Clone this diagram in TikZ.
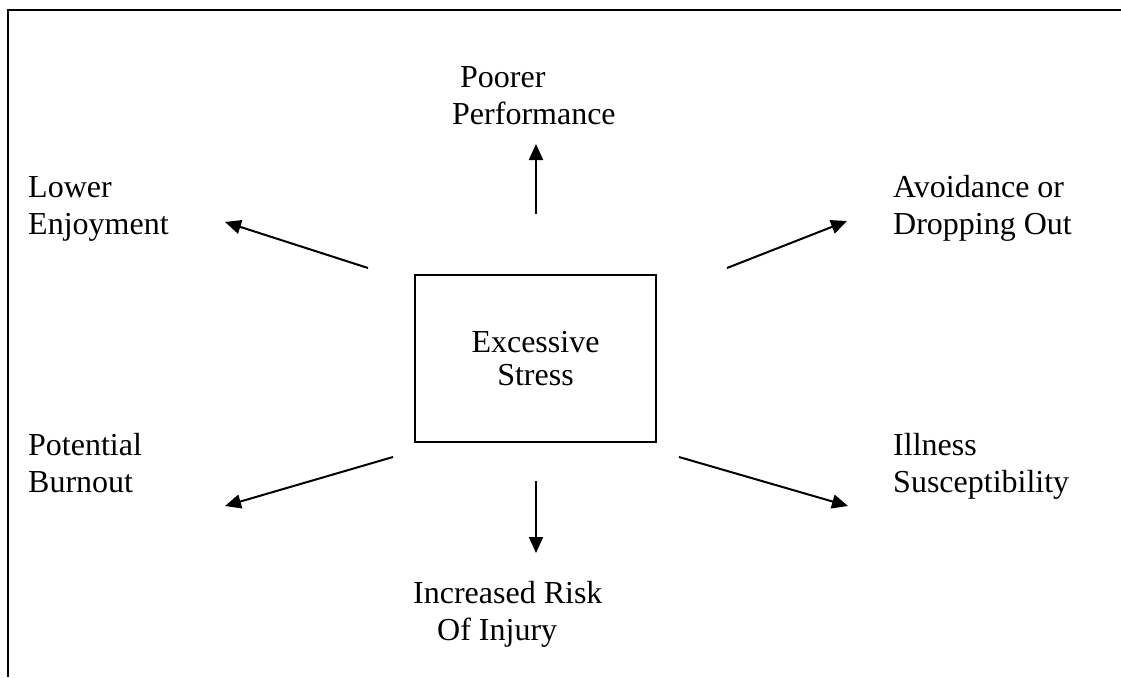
\documentclass[tikz,border=0pt]{standalone}
\usepackage{fontspec}
\setmainfont{Liberation Serif}
\usetikzlibrary{arrows.meta}
\begin{document}
\begin{tikzpicture}[x=1pt,y=-1pt,
  lbl/.style={anchor=base west, align=left, inner sep=0pt, font=\fontsize{32}{37}\selectfont},
  arr/.style={line width=2pt, -{Triangle[length=16pt,width=14pt]}},
  frame/.style={line width=2.4pt}]
\useasboundingbox (0,0) rectangle (1121,677);
% frame (top and left edges only)
\coordinate (fbl) at (8,677);
\coordinate (ftl) at (8,10);
\coordinate (ftr) at (1121,10);
\draw[frame] (fbl) -- (ftl) -- (ftr);
% central box
\node[draw, line width=2pt, minimum width=241pt, minimum height=167pt,
      align=center, font=\fontsize{32}{33}\selectfont] (stress) at (535.5,358.5) {Excessive\\Stress};
% labels (anchored at the baseline of their last line)
\node[lbl] (perf) at (452,124) {\hspace{8pt}Poorer\\Performance};
\node[lbl] (enjoy) at (28,234) {Lower\\Enjoyment};
\node[lbl] (avoid) at (893,234) {Avoidance or\\Dropping Out};
\node[lbl] (burn) at (28,492) {Potential\\Burnout};
\node[lbl] (ill) at (893,492) {Illness\\Susceptibility};
\node[lbl] (injury) at (413,640) {Increased Risk\\\hspace{24pt}Of Injury};
% arrow ends
\coordinate (upT) at (536,214);   \coordinate (upH) at (536,144);
\coordinate (dnT) at (536,481);   \coordinate (dnH) at (536,553);
\coordinate (leT) at (368,268);   \coordinate (leH) at (225,222);
\coordinate (avT) at (727,268);   \coordinate (avH) at (847,221);
\coordinate (pbT) at (393,457);   \coordinate (pbH) at (225,506);
\coordinate (ilT) at (679,457);   \coordinate (ilH) at (848,506);
\draw[arr] (upT) -- (upH);
\draw[arr] (dnT) -- (dnH);
\draw[arr] (leT) -- (leH);
\draw[arr] (avT) -- (avH);
\draw[arr] (pbT) -- (pbH);
\draw[arr] (ilT) -- (ilH);
\end{tikzpicture}
\end{document}
